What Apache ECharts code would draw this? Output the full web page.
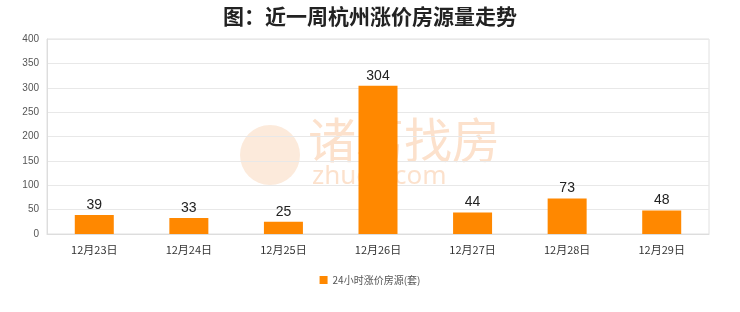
<!DOCTYPE html>
<html><head><meta charset="utf-8">
<script src="https://cdn.jsdelivr.net/npm/echarts@6/dist/echarts.min.js"></script>
<style>html,body{margin:0;padding:0;background:#fff}#c{width:740px;height:312px}</style>
</head><body><div id="c"></div>
<script>
var categories = ['12月23日','12月24日','12月25日','12月26日','12月27日','12月28日','12月29日'];
var values = [39, 33, 25, 304, 44, 73, 48];
var seriesName = '24小时涨价房源(套)';
var titleText = '图：近一周杭州涨价房源量走势';

var chart = echarts.init(document.getElementById('c'));
chart.setOption({
  backgroundColor: '#fff',
  animation: false,
  title: {text: titleText, left: 'center', top: 1,
    textStyle: {fontSize: 21, fontWeight: 'bold', color: '#222', fontFamily: 'Noto Sans CJK SC'}},
  graphic: [
    {type: 'text', left: 308, top: 116, style: {text: '诸葛找房', fontSize: 48, fontFamily: 'Noto Sans CJK SC', fill: 'rgba(245,170,110,0.35)'}},
    {type: 'text', left: 312, top: 164, style: {text: 'zhuge.com', fontSize: 26, fontFamily: 'Noto Sans', fill: 'rgba(245,170,110,0.35)'}},
    {type: 'circle', shape: {cx: 270, cy: 155, r: 30}, style: {fill: 'rgba(245,170,110,0.25)'}}
  ],
  legend: {bottom: 22, left: 'center', itemWidth: 8, itemHeight: 8, icon: 'rect',
    textStyle: {fontSize: 10, color: '#555', fontFamily: 'SimSun, Noto Sans CJK SC'}},
  grid: {left: 47, right: 31, top: 39, bottom: 78, show: true, borderColor: '#e0e0e0', borderWidth: 1},
  xAxis: {type: 'category', data: categories,
    axisLine: {lineStyle: {color: '#ddd'}}, axisTick: {show: false},
    axisLabel: {color: '#333', fontSize: 11, margin: 10, fontFamily: 'Noto Sans CJK SC'}},
  yAxis: {type: 'value', min: 0, max: 400, interval: 50,
    axisLine: {show: true, lineStyle: {color: '#ddd'}}, axisTick: {show: false},
    splitLine: {lineStyle: {color: '#e8e8e8'}},
    axisLabel: {color: '#555', fontSize: 10, margin: 8}},
  series: [{name: seriesName, type: 'bar', data: values, barWidth: 39,
    itemStyle: {color: '#FF8800'},
    label: {show: true, position: 'top', color: '#222', fontSize: 14, distance: 3}}]
});
</script></body></html>
